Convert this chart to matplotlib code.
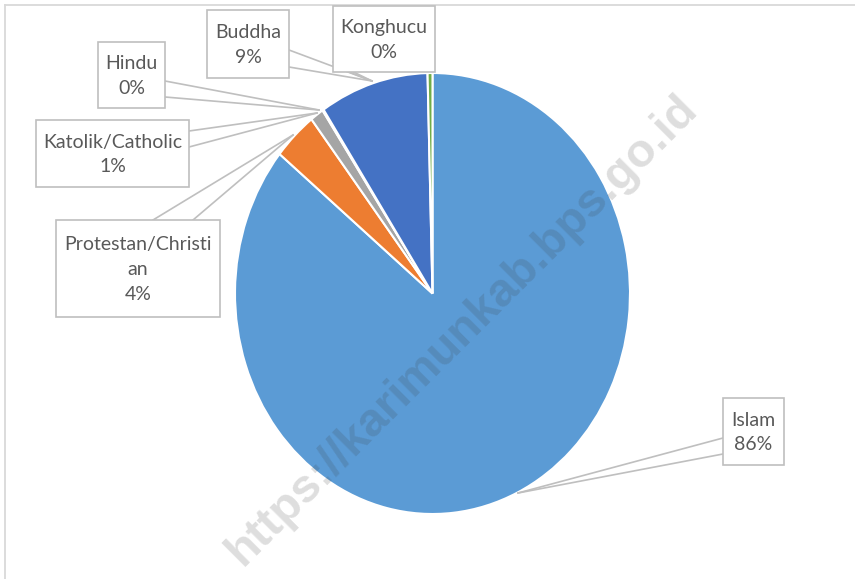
import matplotlib
matplotlib.use("Agg")
import matplotlib.pyplot as plt
from matplotlib.patches import Rectangle
from matplotlib.lines import Line2D

# ---- data ----
categories = ["Islam", "Protestan/Christi\nan", "Katolik/Catholic", "Hindu", "Buddha", "Konghucu"]
values = [85.9, 3.6, 1.1, 0.1, 8.9, 0.4]
colors = ["#5B9BD5", "#ED7D31", "#A5A5A5", "#FFC000", "#4472C4", "#70AD47"]
watermark = "https://karimunkab.bps.go.id"

W, H = 855, 579
fig = plt.figure(figsize=(W / 100, H / 100), dpi=100)
ax = fig.add_axes([0, 0, 1, 1])
ax.pie(values, colors=colors, startangle=90, counterclock=False,
       wedgeprops=dict(edgecolor="white", linewidth=1.5))
ax.set_aspect("auto")
cx, cy, rx, ry = 432.5, 293.5, 197.5, 220.5
ax.set_xlim(-cx / rx, (W - cx) / rx)
ax.set_ylim(-(H - cy) / ry, cy / ry)
ax.axis("off")


def f(x, y):
    return (x / W, 1 - y / H)


# chart border (left and top visible)
for xs, ys in [((5, 5), (5, H)), ((5, W), (5, 5))]:
    fig.add_artist(Line2D([xs[0] / W, xs[1] / W], [1 - ys[0] / H, 1 - ys[1] / H],
                          transform=fig.transFigure, color="#D9D9D9", lw=1.3))

total = sum(values)
# label box layout: (left, top, right, bottom) pixels, pointer base points, anchor
layout = {
    "Islam": ((723, 398, 784, 465), [(723, 438), (723, 454)], (518, 493)),
    "Protestan/Christi\nan": ((56, 220, 220, 317), [(153, 220), (193, 220)], (293, 135)),
    "Katolik/Catholic": ((36, 120, 189, 187), [(189, 131), (189, 147)], (317, 113)),
    "Hindu": ((98, 42, 165, 108), [(165, 81), (165, 97)], (319, 110)),
    "Buddha": ((207, 10, 289, 78), [(289, 50), (289, 67)], (372, 81)),
    "Konghucu": ((333, 6, 435, 72), [(333, 62), (349, 72)], (372, 81)),
}

line_col = "#BFBFBF"
for cat, val in zip(categories, values):
    (l, t, r, b), base, anc = layout[cat]
    for bx, by in base:
        fig.add_artist(Line2D([bx / W, anc[0] / W], [1 - by / H, 1 - anc[1] / H],
                              transform=fig.transFigure, color=line_col, lw=1.2, zorder=5))
for cat, val in zip(categories, values):
    (l, t, r, b), base, anc = layout[cat]
    x0, y0 = f(l, b)
    fig.add_artist(Rectangle((x0, y0), (r - l) / W, (b - t) / H, transform=fig.transFigure,
                             facecolor="white", edgecolor=line_col, lw=1.2, zorder=6))
    pct = f"{round(val / total * 100):.0f}%"
    tx, ty = f((l + r) / 2, (t + b) / 2 + 1)
    fig.text(tx, ty, f"{cat}\n{pct}", ha="center", va="center", fontsize=14,
             family="Lato", color="#595959", linespacing=1.55, zorder=7)

# watermark
wx, wy = f(462, 330)
fig.text(wx, wy, watermark, rotation=45, ha="center", va="center", fontsize=34,
         fontweight="bold", family="Liberation Sans", color="#3C3C3C", alpha=0.17,
         zorder=10, rotation_mode="anchor")

fig.savefig("out.png", dpi=100)
